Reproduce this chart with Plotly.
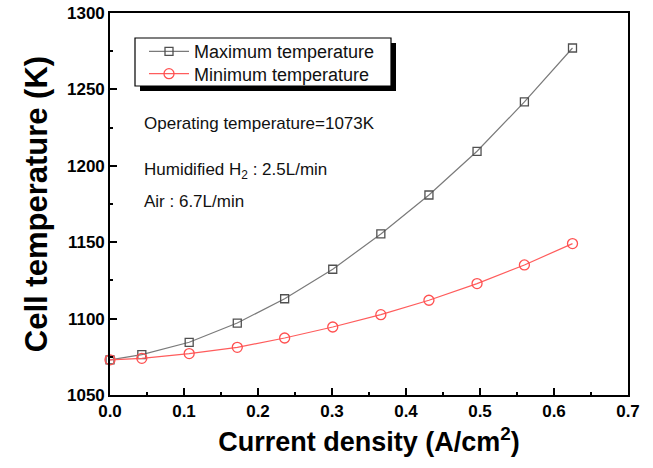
import plotly.graph_objects as go

current_density = [0.0, 0.043, 0.107, 0.172, 0.236, 0.301, 0.366, 0.431, 0.496, 0.560, 0.625]
max_temp = [1073.0, 1076.4, 1084.5, 1097.1, 1113.0, 1132.3, 1155.4, 1180.9, 1209.5, 1241.8, 1277.1]
min_temp = [1073.0, 1074.0, 1077.1, 1081.2, 1087.3, 1094.5, 1102.6, 1112.0, 1122.9, 1135.1, 1149.1]

series_names = ["Maximum temperature", "Minimum temperature"]
x_title = "Current density (A/cm<sup>2</sup>)"
y_title = "Cell temperature (K)"
notes = ["Operating temperature=1073K", "Humidified H<sub>2</sub> : 2.5L/min", "Air : 6.7L/min"]

BOLD = "Liberation Sans, Arial, sans-serif"
REG = "Liberation Sans, Arial, sans-serif"

W, H = 653, 468
L, R, T, B = 110, 25, 13, 73
pw, ph = W - L - R, H - T - B

def px(xp):
    return (xp - L) / pw

def py(yp):
    return (H - B - yp) / ph

fig = go.Figure()
fig.add_trace(go.Scatter(
    x=current_density, y=max_temp, name=series_names[0], mode="lines+markers",
    line=dict(color="#7a7a7a", width=1.2),
    marker=dict(symbol="square-open", size=8, color="#505050", line=dict(width=1.3)),
    cliponaxis=False, legend="legend",
))
fig.add_trace(go.Scatter(
    x=current_density, y=min_temp, name=series_names[1], mode="lines+markers",
    line=dict(color="#ff5c5c", width=1.2),
    marker=dict(symbol="circle-open", size=10, color="#ff5050", line=dict(width=1.3)),
    cliponaxis=False, legend="legend2",
))

# legend shadow + box
fig.add_shape(type="rect", xref="paper", yref="paper",
              x0=px(140), x1=px(396), y0=py(91), y1=py(43),
              fillcolor="black", line=dict(width=0), layer="above")
fig.add_shape(type="rect", xref="paper", yref="paper",
              x0=px(135), x1=px(391), y0=py(86), y1=py(38),
              fillcolor="white", line=dict(color="black", width=1.2), layer="above")

ann_y = [123, 171, 201]
for txt, yy in zip(notes, ann_y):
    fig.add_annotation(text=txt, xref="paper", yref="paper", x=px(142), y=py(yy),
                       xanchor="left", yanchor="middle", showarrow=False,
                       font=dict(family=REG, size=17, color="#111"))

leg_common = dict(xanchor="left", yanchor="middle", bgcolor="rgba(0,0,0,0)",
                  borderwidth=0, font=dict(family=REG, size=18, color="#111"),
                  itemwidth=40)

fig.update_layout(
    width=W, height=H,
    margin=dict(l=L, r=R, t=T, b=B, autoexpand=False),
    paper_bgcolor="white", plot_bgcolor="white",
    showlegend=True,
    legend=dict(x=px(144), y=py(51.7), **leg_common),
    legend2=dict(x=px(144), y=py(74), **leg_common),
    xaxis=dict(range=[0, 0.7], dtick=0.1, tick0=0, tickformat=".1f", automargin=False,
               ticks="inside", ticklen=7, tickwidth=1.5, tickcolor="black",
               minor=dict(dtick=0.05, ticks="inside", ticklen=3, tickwidth=1.5, tickcolor="black"),
               showline=True, linecolor="black", linewidth=1.6, mirror=True,
               showgrid=False, zeroline=False,
               tickfont=dict(family=BOLD, size=17, color="black", weight="bold"),
               title=dict(text=x_title, standoff=12,
                          font=dict(family=BOLD, size=27, color="black", weight="bold"))),
    yaxis=dict(range=[1050, 1300], dtick=50, tick0=1050, automargin=False,
               ticks="inside", ticklen=7, tickwidth=1.5, tickcolor="black",
               minor=dict(dtick=25, ticks="inside", ticklen=3, tickwidth=1.5, tickcolor="black"),
               showline=True, linecolor="black", linewidth=1.6, mirror=True,
               showgrid=False, zeroline=False,
               tickfont=dict(family=BOLD, size=17, color="black", weight="bold"),
               title=dict(text=y_title, standoff=10,
                          font=dict(family=BOLD, size=31, color="black", weight="bold"))),
)

fig.write_html("out.html")
